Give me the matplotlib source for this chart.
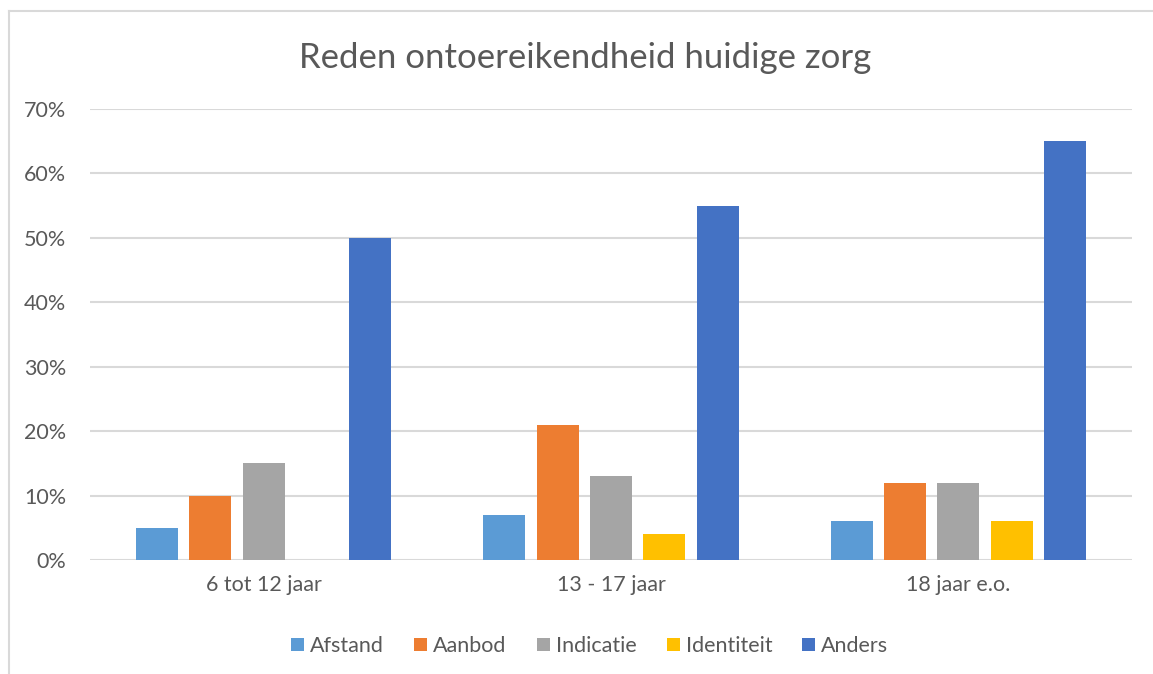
import matplotlib
matplotlib.use("Agg")
import matplotlib.pyplot as plt
import numpy as np
from matplotlib.lines import Line2D
from matplotlib.ticker import FuncFormatter

categories = ["6 tot 12 jaar", "13 - 17 jaar", "18 jaar e.o."]
series_names = ["Afstand", "Aanbod", "Indicatie", "Identiteit", "Anders"]
afstand = [0.05, 0.07, 0.06]
aanbod = [0.10, 0.21, 0.12]
indicatie = [0.15, 0.13, 0.12]
identiteit = [0.0, 0.04, 0.06]
anders = [0.50, 0.55, 0.65]
yticks = [0, 0.1, 0.2, 0.3, 0.4, 0.5, 0.6, 0.7]
colors = ["#5B9BD5", "#ED7D31", "#A5A5A5", "#FFC000", "#4472C4"]

plt.rcParams['font.family'] = ['Lato', 'DejaVu Sans']
text_color = "#595959"
grid_color = "#D9D9D9"

fig = plt.figure(figsize=(11.53, 6.74), dpi=100)
ax = fig.add_axes([90/1153, 1-560/674, (1132-90)/1153, (560-109)/674])

data = [afstand, aanbod, indicatie, identiteit, anders]
x = np.arange(len(categories))
step = 0.1535
width = 0.121
for i, (name, vals, c) in enumerate(zip(series_names, data, colors)):
    ax.bar(x + (i - 2) * step, vals, width=width, color=c, label=name, zorder=3)

ax.set_xlim(-0.5, len(categories) - 0.5)
ax.set_ylim(0, 0.7)
ax.set_yticks(yticks)
ax.yaxis.set_major_formatter(FuncFormatter(lambda v, p: f"{v*100:.0f}%"))
ax.set_xticks(x)
ax.set_xticklabels(categories)
ax.grid(axis='y', color=grid_color, linewidth=1.5, zorder=0)
for s in ax.spines.values():
    s.set_visible(False)
ax.tick_params(axis='both', length=0, colors=text_color, labelsize=15.5)
ax.tick_params(axis='y', pad=17)
ax.tick_params(axis='x', pad=11)

fig.text(585/1153, 1-58/674, "Reden ontoereikendheid huidige zorg", ha='center', va='center',
         fontsize=25, color=text_color)

leg = fig.legend(loc='center', bbox_to_anchor=(590/1153, 1-646/674), ncol=5, frameon=False,
                 fontsize=15.5, handlelength=0.6, handleheight=0.6, handletextpad=0.28,
                 columnspacing=1.4, labelcolor=text_color)

# chart border (top & left visible)
fig.add_artist(Line2D([8.5/1153, 1], [1-11/674, 1-11/674], color=grid_color, linewidth=1.5))
fig.add_artist(Line2D([8.5/1153, 8.5/1153], [0, 1-11/674], color=grid_color, linewidth=1.5))

fig.savefig("out.png", dpi=100)
